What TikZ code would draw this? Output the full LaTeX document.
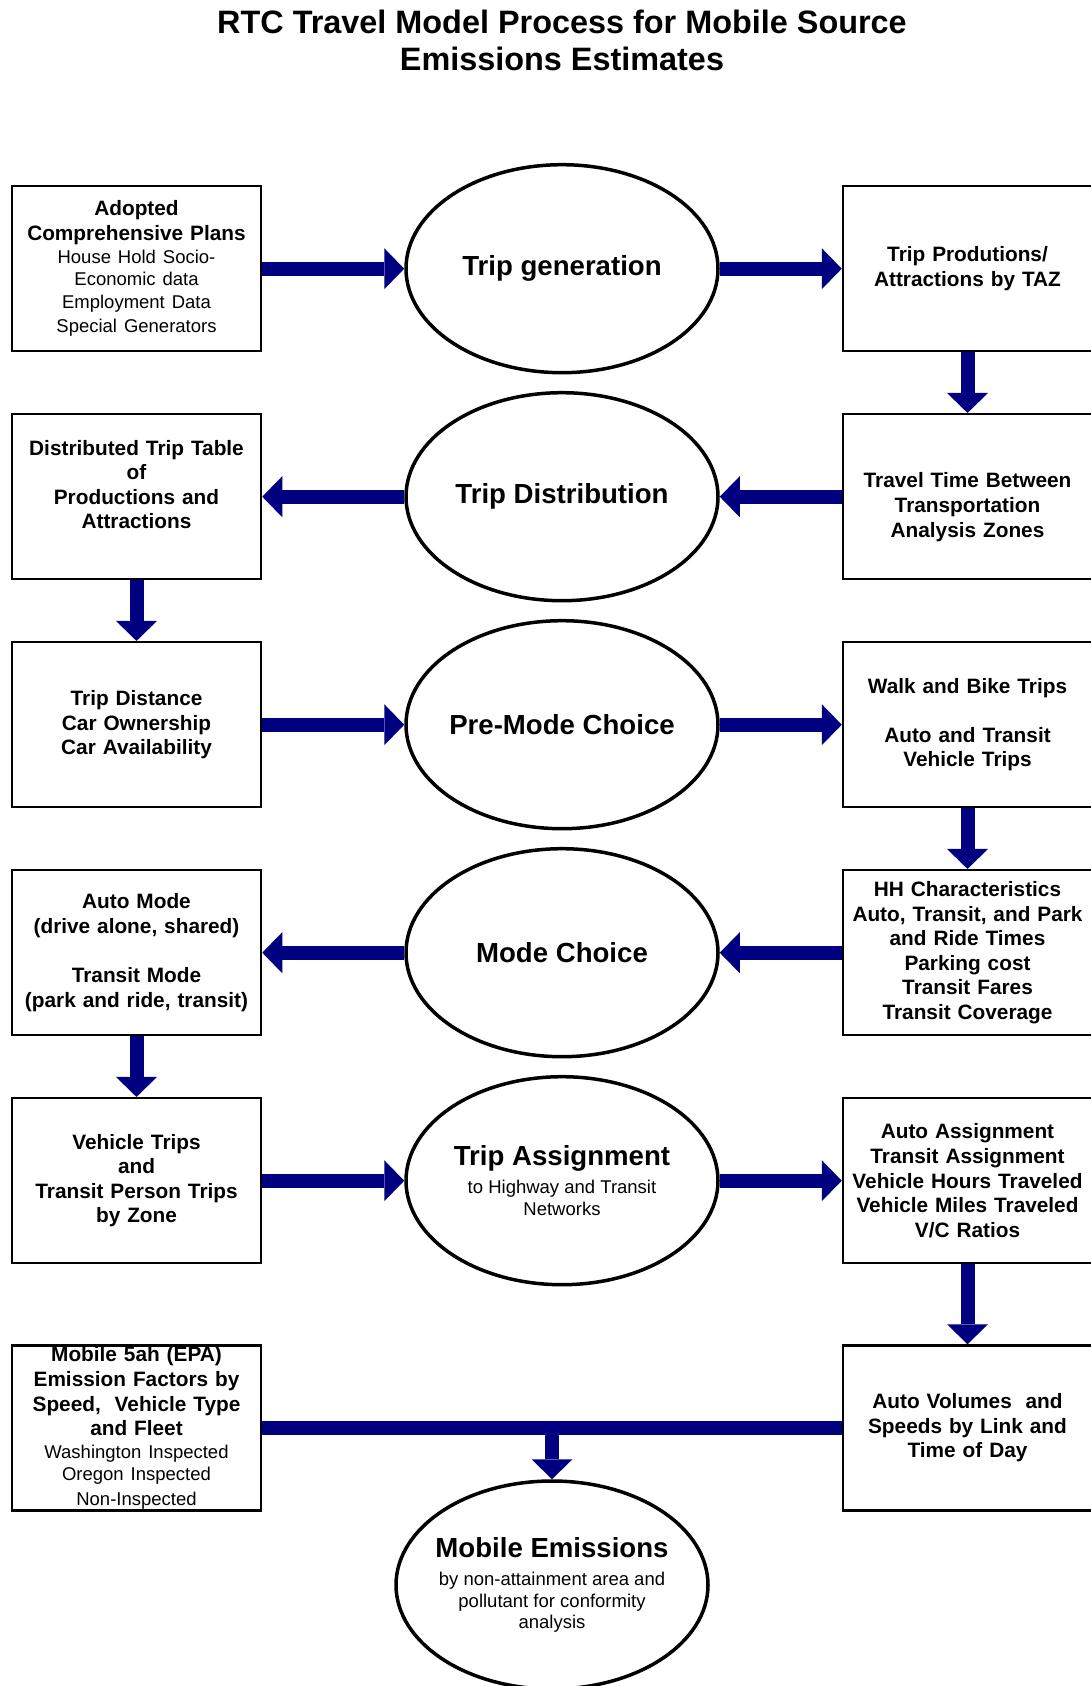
\documentclass[tikz,border=0pt]{standalone}
\usepackage{fontspec}
\setmainfont{Liberation Sans}
\usetikzlibrary{shapes.geometric,arrows.meta}
\definecolor{flowblue}{RGB}{0,0,128}
\newcommand{\boxfont}{\fontsize{20.8}{24.6}\selectfont\bfseries}
\newcommand{\notefont}{\fontsize{18.5}{22.6}\selectfont\mdseries}
\newcommand{\ovalfont}{\fontsize{27.6}{21.7}\selectfont\bfseries}
\newcommand{\titlefont}{\fontsize{32.4}{37.5}\selectfont\bfseries}
\tikzset{
  stage/.style = {rectangle, draw = black, line width = 2.5pt, minimum width = 249pt, minimum height = 165pt, text width = 240pt, inner sep = 0pt, align = center, font = \boxfont},
  oval/.style = {ellipse, draw = black, line width = 3.5pt, minimum width = 312pt, minimum height = 208pt, inner xsep = -20pt, inner ysep = 0pt, align = center, font = \ovalfont},
  flow/.style = {draw = flowblue, line width = 14pt, -{Triangle[width = 41pt, length = 20pt, line width = 0pt]}},
  busline/.style = {draw = flowblue, line width = 14pt}
}
\begin{document}
\begin{tikzpicture}[x = 1pt, y = -1pt]
\useasboundingbox (0,0) rectangle (1091,1686);
\pgfmathsetmacro\leftx{136.5}
\pgfmathsetmacro\midx{562}
\pgfmathsetmacro\rightx{967.5}
\pgfmathsetmacro\toprow{268.7}
\pgfmathsetmacro\rowgap{228}
\node [font = \titlefont, align = center, inner sep = 0pt] (title) at (562,40.5) {RTC Travel Model Process for Mobile Source\\ Emissions Estimates};
\node [stage] (plans) at (\leftx,\toprow) {Adopted\\ Comprehensive Plans\par\notefont House Hold Socio-\\ Economic data\\ Employment Data\\ Special Generators};
\node [oval] (gen) at (\midx,\toprow) {Trip generation};
\node [stage] (prod) at (\rightx,\toprow) {Trip Produtions/\\ Attractions by TAZ};
\node [stage] (table) at (\leftx,\toprow+\rowgap) {Distributed Trip Table\\ of\\ Productions and\\ Attractions\\ \mbox{}};
\node [oval] (dist) at (\midx,\toprow+\rowgap) {Trip Distribution};
\node [stage] (time) at (\rightx,\toprow+\rowgap) {\vphantom{a}\\ Travel Time Between\\ Transportation\\ Analysis Zones};
\node [stage] (factors) at (\leftx,\toprow+2*\rowgap) {Trip Distance\\ Car Ownership\\ Car Availability};
\node [oval] (premode) at (\midx,\toprow+2*\rowgap) {Pre-Mode Choice};
\node [stage] (walk) at (\rightx,\toprow+2*\rowgap) {Walk and Bike Trips\\ \mbox{}\\ Auto and Transit\\ Vehicle Trips};
\node [stage] (modes) at (\leftx,\toprow+3*\rowgap) {Auto Mode\\ (drive alone, shared)\\ \mbox{}\\ Transit Mode\\ (park and ride, transit)};
\node [oval] (mode) at (\midx,\toprow+3*\rowgap) {Mode Choice};
\node [stage] (costs) at (\rightx,\toprow+3*\rowgap) {HH Characteristics\\ Auto, Transit, and Park\\ and Ride Times\\ Parking cost\\ Transit Fares\\ Transit Coverage};
\node [stage] (trips) at (\leftx,\toprow+4*\rowgap) {Vehicle Trips\\ and\\ Transit Person Trips\\ by Zone};
\node [oval] (assign) at (\midx,\toprow+4*\rowgap) {Trip Assignment\\[6.2pt] {\notefont to Highway and Transit}\\ {\notefont Networks}};
\node [stage] (results) at (\rightx,\toprow+4*\rowgap) {Auto Assignment\\ Transit Assignment\\ Vehicle Hours Traveled\\ Vehicle Miles Traveled\\ V/C Ratios};
\node [stage] (epa) at (\leftx,1428) {Mobile 5ah (EPA)\\ Emission Factors by\\ Speed, \ Vehicle Type\\ and Fleet\par\notefont Washington Inspected\\ Oregon Inspected\\ Non-Inspected};
\node [stage] (volumes) at (\rightx,1428) {Auto Volumes \ and\\ Speeds by Link and\\ Time of Day};
\node [oval] (emis) at (552,1585) {Mobile Emissions\\[6.2pt] {\notefont by non-attainment area and}\\ {\notefont pollutant for conformity}\\ {\notefont analysis}};
\foreach \a/\b in {plans/gen, gen/prod, dist/table, time/dist, factors/premode, premode/walk, mode/modes, costs/mode, trips/assign, assign/results}
  \draw [flow] (\a) -- (\b);
\foreach \a/\b in {prod/time, table/factors, walk/costs, modes/trips, results/volumes}
  \draw [flow] (\a) -- (\b);
\draw [busline] (epa) -- (volumes);
\coordinate (drop) at (emis |- epa);
\draw [flow] (drop) -- (emis);
\end{tikzpicture}
\end{document}
